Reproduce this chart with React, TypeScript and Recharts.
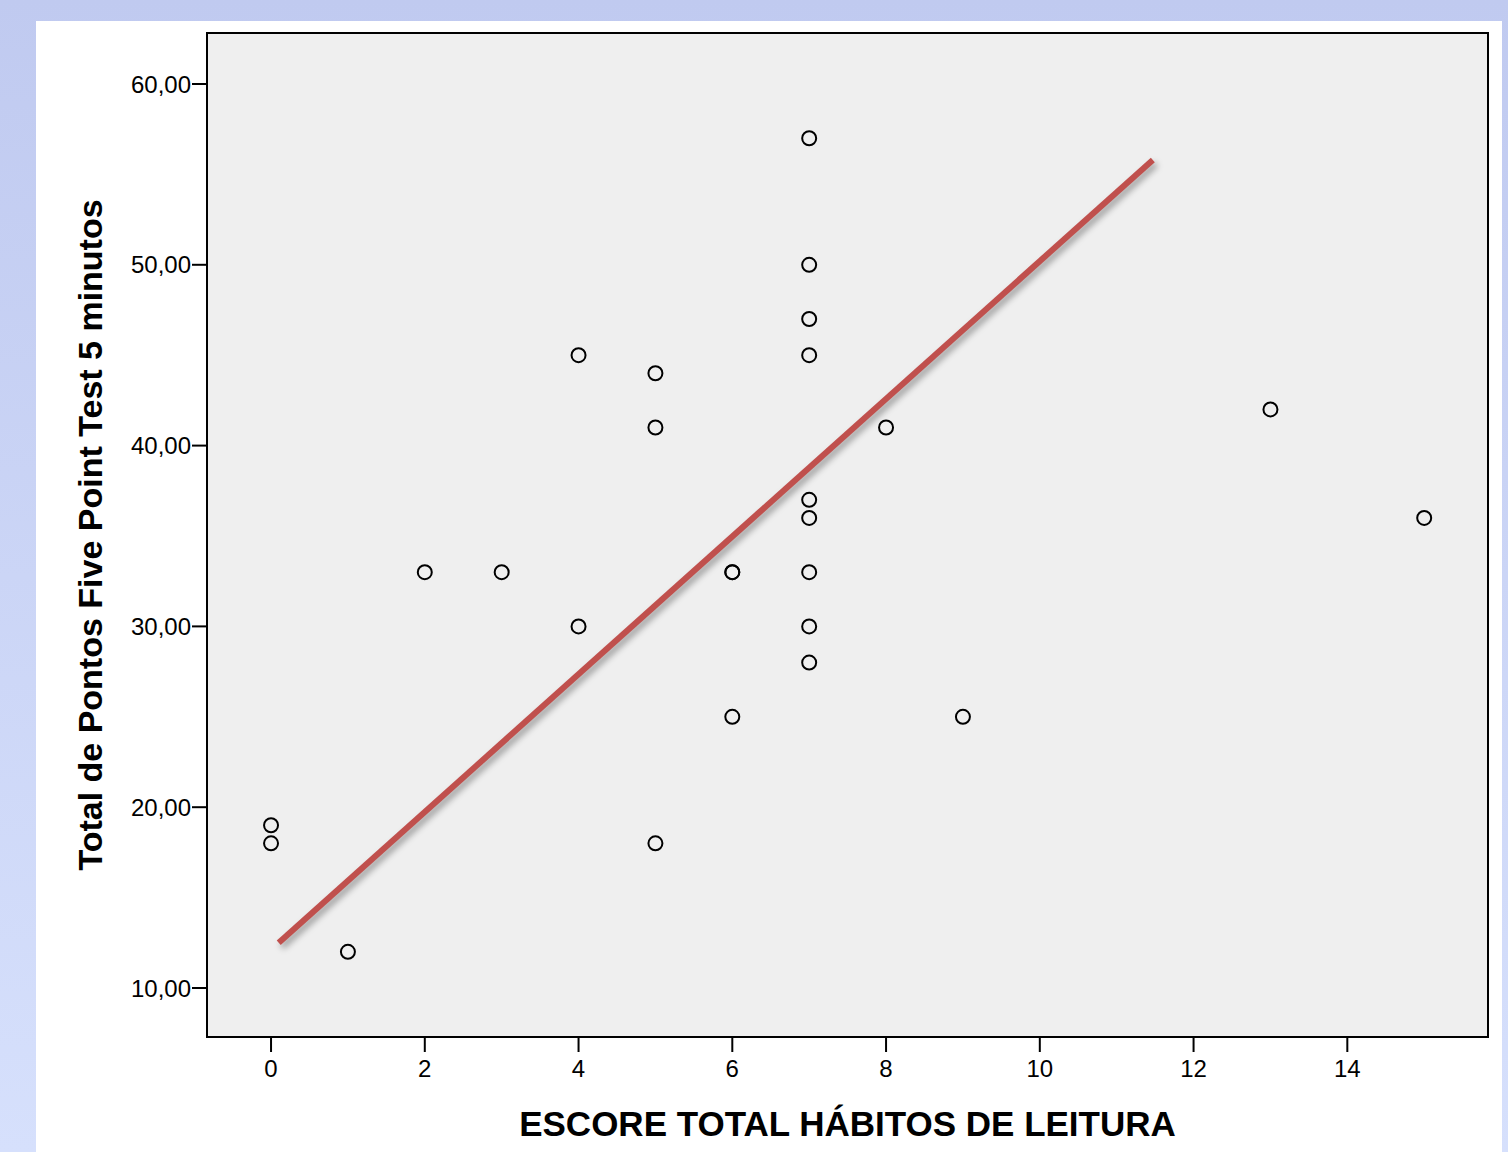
import {
  ScatterChart,
  Scatter,
  XAxis,
  YAxis,
  ReferenceArea,
  Label,
} from "recharts";

const habitScores = [0, 0, 1, 2, 3, 4, 4, 5, 5, 5, 6, 6, 6, 7, 7, 7, 7, 7, 7, 7, 7, 7, 8, 9, 13, 15];
const fivePointTotals = [19, 18, 12, 33, 33, 45, 30, 44, 41, 18, 33, 33, 25, 57, 50, 47, 45, 37, 36, 33, 30, 28, 41, 25, 42, 36];

const fitX = [0.1, 11.47];
const fitY = [12.5, 55.8];

const xTicks = [0, 2, 4, 6, 8, 10, 12, 14];
const yTicks = [10, 20, 30, 40, 50, 60];

const xDomain = [-0.833, 15.83];
const yDomain = [7.29, 62.82];

const points = habitScores.map((x, i) => ({ x, y: fivePointTotals[i] }));
const fitLine = fitX.map((x, i) => ({ x, y: fitY[i] }));

const font = "'Liberation Sans', Arial, sans-serif";

const Ring = (props: any) => {
  const { cx, cy } = props;
  if (cx == null || cy == null) return null;
  return <circle cx={cx} cy={cy} r={7} fill="none" stroke="#000" strokeWidth={2} />;
};

export default function App() {
  return (
    <div
      style={{
        position: "absolute",
        left: 0,
        top: 0,
        width: 1508,
        height: 1152,
        background: "linear-gradient(180deg, #c0caf0 0%, #d6e0fc 100%)",
        overflow: "hidden",
      }}
    >
      <div style={{ position: "absolute", left: 36, top: 21, width: 1466, height: 1131, background: "#fff" }}>
        <ScatterChart width={1466} height={1131} margin={{ top: 12, right: 14, left: 0, bottom: 0 }}>
          <ReferenceArea
            x1={xDomain[0]}
            x2={xDomain[1]}
            y1={yDomain[0]}
            y2={yDomain[1]}
            fill="#efefef"
            fillOpacity={1}
            stroke="#000"
            strokeWidth={2}
          />
          <XAxis
            type="number"
            dataKey="x"
            domain={xDomain}
            ticks={xTicks}
            allowDataOverflow
            height={115}
            tickSize={15}
            tickMargin={8}
            axisLine={false}
            tickLine={{ stroke: "#000", strokeWidth: 2 }}
            tick={{ fill: "#000", fontSize: 24, fontFamily: font }}
          >
            <Label
              value="ESCORE TOTAL HÁBITOS DE LEITURA"
              position="insideBottom"
              offset={16}
              style={{ fill: "#000", fontSize: 35, fontWeight: "bold", fontFamily: font }}
            />
          </XAxis>
          <YAxis
            type="number"
            dataKey="y"
            domain={yDomain}
            ticks={yTicks}
            allowDataOverflow
            width={171}
            tickSize={15}
            tickMargin={1}
            axisLine={false}
            tickLine={{ stroke: "#000", strokeWidth: 2 }}
            tickFormatter={(v: number) => v.toFixed(2).replace(".", ",")}
            tick={{ fill: "#000", fontSize: 24, fontFamily: font }}
          >
            <Label
              value="Total de Pontos Five Point Test 5 minutos"
              angle={-90}
              position="insideLeft"
              offset={54}
              style={{ textAnchor: "middle", fill: "#000", fontSize: 34, fontWeight: "bold", fontFamily: font }}
            />
          </YAxis>
          <Scatter
            data={fitLine}
            isAnimationActive={false}
            shape={() => null}
            line={{
              stroke: "#c0504d",
              strokeWidth: 6,
              style: { filter: "drop-shadow(3px 4px 3px rgba(0,0,0,0.35))" },
            }}
          />
          <Scatter data={points} isAnimationActive={false} shape={Ring} />
        </ScatterChart>
      </div>
    </div>
  );
}
